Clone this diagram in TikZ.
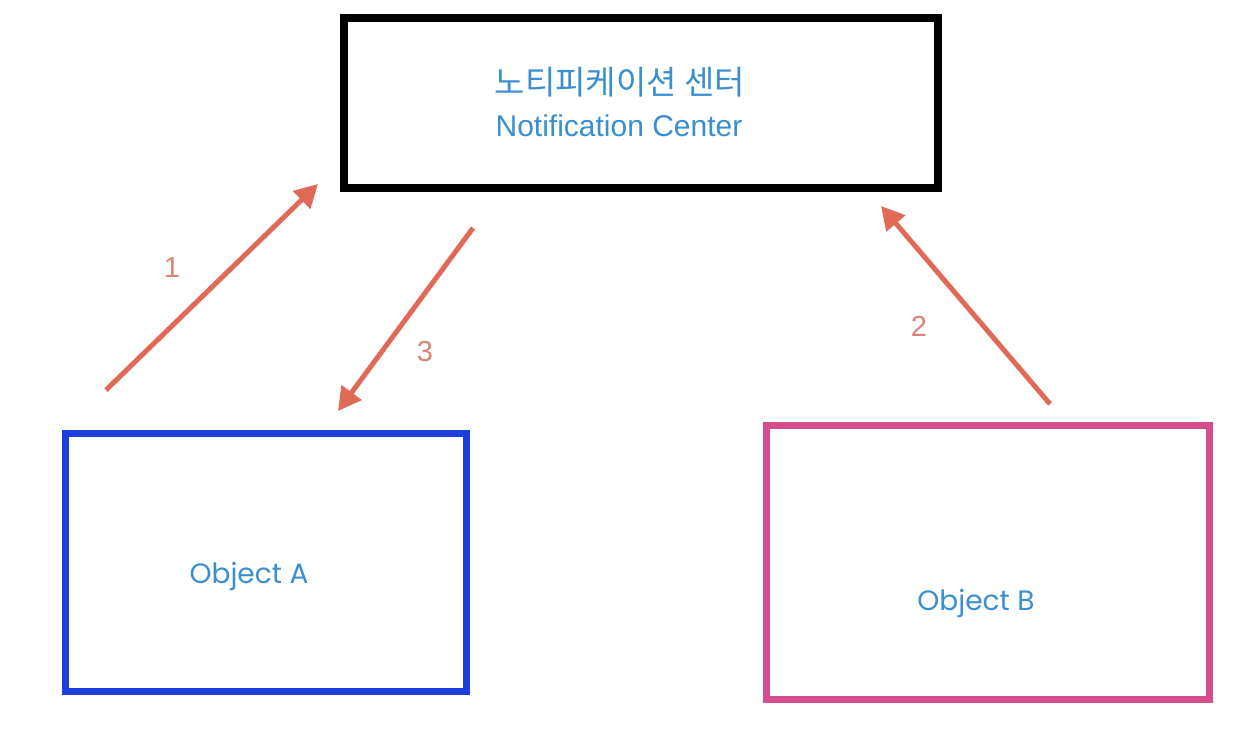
\documentclass[tikz,border=0pt]{standalone}
\usepackage{fontspec}
\setmainfont{Liberation Sans}
\newfontfamily\krfont{Noto Sans CJK KR}
\newfontfamily\objfont{Poppins}
\usetikzlibrary{arrows.meta}
\definecolor{txtblue}{HTML}{3A8FD0}
\definecolor{objblue}{HTML}{1B3FD8}
\definecolor{objpink}{HTML}{D44E8E}
\definecolor{arrowred}{HTML}{E06A55}
\definecolor{numred}{HTML}{D98474}
\tikzset{
  boxstyle/.style={draw, line width=7pt, fill=white, inner sep=0pt},
  flowarrow/.style={draw=arrowred, line width=5pt, -{Triangle[length=23pt,width=24pt]}},
  numlabel/.style={text=numred, font=\fontsize{29}{30}\selectfont},
  objlabel/.style={text=txtblue, font=\objfont\fontsize{28}{30}\selectfont},
}
\begin{document}
\begin{tikzpicture}[x=1pt,y=-1pt]
\useasboundingbox[fill=white] (0,0) rectangle (1258,734);
% boxes
\node[boxstyle, draw=black, line width=8pt, minimum width=594pt, minimum height=170pt] (nc) at (641,103) {};
\node[boxstyle, draw=objblue, minimum width=401pt, minimum height=258pt] (oa) at (266,562) {};
\node[boxstyle, draw=objpink, minimum width=443pt, minimum height=274pt] (ob) at (988,562) {};
% texts
\node[text=txtblue, font=\krfont\fontsize{33}{36}\selectfont, anchor=base] (krt) at (620,94) {노티피케이션 센터};
\node[text=txtblue, font=\fontsize{30}{32}\selectfont, anchor=base] (ent) at (619,136) {Notification Center};
\node[objlabel, anchor=base] (oat) at (249,583) {Object A};
\node[objlabel, anchor=base] (obt) at (976,610) {Object B};
% arrow end points
\coordinate (a1s) at (106,390);
\coordinate (a1e) at (318,184);
\coordinate (a3s) at (473,228);
\coordinate (a3e) at (338,411);
\coordinate (a2s) at (1050,404);
\coordinate (a2e) at (881,206);
\draw[flowarrow] (a1s) -- (a1e);
\draw[flowarrow] (a3s) -- (a3e);
\draw[flowarrow] (a2s) -- (a2e);
% numbers
\node[numlabel] (n1) at (172,268) {1};
\node[numlabel] (n3) at (425,352) {3};
\node[numlabel] (n2) at (919,326) {2};
\end{tikzpicture}
\end{document}
